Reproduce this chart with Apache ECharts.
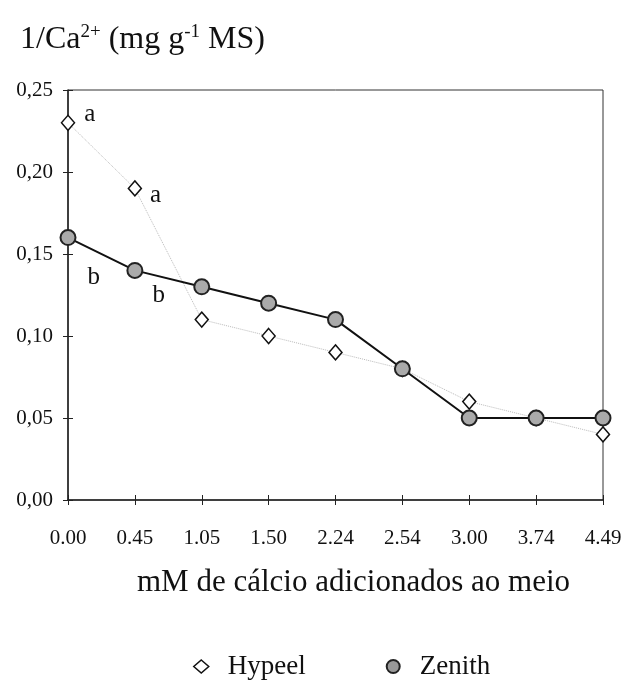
<!DOCTYPE html>
<html>
<head>
<meta charset="utf-8">
<script src="https://cdn.jsdelivr.net/npm/echarts@6/dist/echarts.min.js"></script>
<style>
  html, body { margin: 0; padding: 0; background: #fff; }
  #chart { width: 628px; height: 683px; }
</style>
</head>
<body>
<div id="chart"></div>
<script>
// calcium added to medium (mM)
const categories = ['0.00', '0.45', '1.05', '1.50', '2.24', '2.54', '3.00', '3.74', '4.49'];
const hypeel = [0.23, 0.19, 0.11, 0.10, 0.09, 0.08, 0.06, 0.05, 0.04];
const zenith = [0.16, 0.14, 0.13, 0.12, 0.11, 0.08, 0.05, 0.05, 0.05];
const hypeelLetters = ['a', 'a', '', '', '', '', '', '', ''];
const zenithLetters = ['b', 'b', '', '', '', '', '', '', ''];

// where the letters sit relative to their point (px)
const hypeelLetterOffsets = [[4, -8], [3, 7]];
const zenithLetterOffsets = [[6, 40], [4, 25]];

const serif = '"Liberation Serif", "DejaVu Serif", serif';

function withLetters(values, letters, offsets) {
  return values.map((v, i) => letters[i]
    ? { value: v, label: { show: true, formatter: letters[i], position: 'right', offset: offsets[i],
        fontFamily: serif, fontSize: 25, color: '#111' } }
    : v);
}

const chart = echarts.init(document.getElementById('chart'));

const option = {
  backgroundColor: '#fff',
  animation: false,
  textStyle: { fontFamily: serif, color: '#111' },
  title: {
    text: '1/Ca{sup|2+} (mg g{sup|-1} MS)',
    left: 15,
    top: 18,
    textStyle: {
      fontFamily: serif, fontSize: 32, fontWeight: 'normal', color: '#111',
      rich: { sup: { fontFamily: serif, fontSize: 19, verticalAlign: 'top', padding: [0, 0, 15, 0], color: '#111' } }
    }
  },
  legend: {
    bottom: -2,
    left: 188,
    itemGap: 80,
    itemWidth: 15,
    itemHeight: 13,
    textStyle: { fontFamily: serif, fontSize: 27, color: '#111', padding: [0, 0, 0, 14] },
    data: [
      { name: 'Hypeel', icon: 'diamond', itemStyle: { color: '#fff', borderColor: '#111', borderWidth: 1.5 } },
      { name: 'Zenith', icon: 'circle', itemStyle: { color: '#999', borderColor: '#222', borderWidth: 2 } }
    ]
  },
  grid: {
    left: 68, right: 25, top: 90, bottom: 183,
    show: true, borderColor: '#333', borderWidth: 1
  },
  xAxis: [{
    type: 'category',
    data: categories,
    boundaryGap: false,
    name: 'mM de cálcio adicionados ao meio',
    nameLocation: 'middle',
    nameGap: 67,
    nameTextStyle: { fontFamily: serif, fontSize: 31, color: '#111', padding: [0, 0, 0, 36] },
    axisLine: { lineStyle: { color: '#222', width: 1.5 } },
    axisTick: { alignWithLabel: true, length: 5, lineStyle: { color: '#222' } },
    axisLabel: { fontFamily: serif, fontSize: 21, color: '#111', margin: 28, interval: 0 },
    splitLine: { show: false }
  }, {
    type: 'category',
    data: categories,
    boundaryGap: false,
    position: 'bottom',
    axisLine: { show: false },
    axisTick: { inside: true, alignWithLabel: true, length: 5, lineStyle: { color: '#222' } },
    axisLabel: { show: false },
    splitLine: { show: false }
  }],
  yAxis: [{
    type: 'value',
    min: 0, max: 0.25, interval: 0.05,
    axisLine: { show: true, lineStyle: { color: '#222', width: 1.5 } },
    axisTick: { show: true, length: 5, lineStyle: { color: '#222' } },
    axisLabel: {
      fontFamily: serif, fontSize: 21, color: '#111', margin: 15,
      formatter: v => v.toFixed(2).replace('.', ',')
    },
    splitLine: { show: false }
  }, {
    type: 'value',
    min: 0, max: 0.25, interval: 0.05,
    position: 'left',
    axisLine: { show: false },
    axisTick: { show: true, inside: true, length: 5, lineStyle: { color: '#222' } },
    axisLabel: { show: false },
    splitLine: { show: false }
  }],
  series: [{
    name: 'Hypeel',
    type: 'line',
    data: withLetters(hypeel, hypeelLetters, hypeelLetterOffsets),
    symbol: 'diamond',
    symbolSize: [13, 15],
    itemStyle: { color: '#fff', borderColor: '#111', borderWidth: 1.5 },
    lineStyle: { color: '#bbb', width: 1, type: 'dotted' },
    z: 2
  }, {
    name: 'Zenith',
    type: 'line',
    data: withLetters(zenith, zenithLetters, zenithLetterOffsets),
    symbol: 'circle',
    symbolSize: 15,
    itemStyle: { color: '#aaa', borderColor: '#222', borderWidth: 2 },
    lineStyle: { color: '#111', width: 2 },
    z: 3
  }]
};

chart.setOption(option);
</script>
</body>
</html>
